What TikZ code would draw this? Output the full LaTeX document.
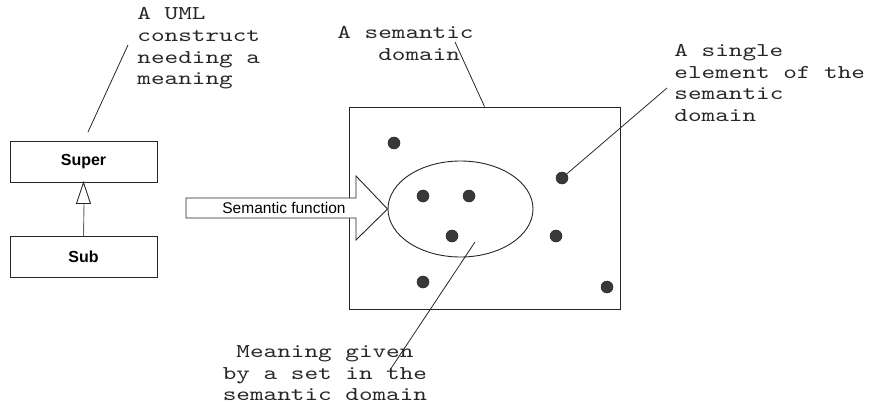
\documentclass[tikz,border=0pt]{standalone}
\usepackage{fontspec}
\setsansfont{Liberation Sans}
\newfontfamily\cour{lmmono10-regular.otf}[FakeStretch=1.33]
\usetikzlibrary{shapes.geometric}
\begin{document}
\begin{tikzpicture}[x=1pt,y=-1pt,line width=0.9pt,draw=black!85,
  cls/.style={draw,minimum width=147pt,minimum height=41pt,inner sep=0pt,
    font=\sffamily\bfseries\fontsize{16}{19}\selectfont},
  note/.style={font=\cour\fontsize{19.5}{21.6}\selectfont,inner sep=0pt,align=left,anchor=north west,text=black!85},
  dotn/.style={circle,fill=black!78,draw=black!85,line width=0.5pt,minimum size=12pt,inner sep=0pt},
  leader/.style={line width=0.8pt,draw=black!85}]
\useasboundingbox (0,0) rectangle (873,407);
% class boxes
\node[cls] (super) at (83.5,161.5) {Super};
\node[cls] (sub) at (83.5,257) {Sub};
\coordinate (tribase) at (84,203);
\draw[black!60] (sub.north) -- (tribase);
\draw[fill=white] (super.south) -- ++(-7,21) -- ++(14,0) -- cycle;
% semantic domain
\node[draw,minimum width=271pt,minimum height=202pt,inner sep=0pt] (dom) at (484.5,208) {};
\node[draw,ellipse,minimum width=145pt,minimum height=96pt,inner sep=0pt] (set) at (460.5,209) {};
% dots
\node[dotn] (d1) at (394,143) {};
\node[dotn] (d2) at (423,196) {};
\node[dotn] (d3) at (469,196) {};
\node[dotn] (d4) at (452,236) {};
\node[dotn] (d5) at (562,178) {};
\node[dotn] (d6) at (556,236) {};
\node[dotn] (d7) at (423,282) {};
\node[dotn] (d8) at (607,287) {};
% semantic function arrow
\draw[fill=white] (186,198) -- (356,198) -- (356,176) -- (set.west) -- (356,240) -- (356,218) -- (186,218) -- cycle;
\node[font=\sffamily\fontsize{15.5}{18}\selectfont,inner sep=0pt] (fn) at (284,208) {Semantic function};
% notes
\node[note] (uml) at (137,4.4) {\strut A UML\\construct\\needing a\\meaning};
\node[note] (semdom) at (337,22.9) {\strut A semantic\\\phantom{A s}domain};
\node[note] (single) at (674,40.9) {\strut A single\\element of the\\semantic\\domain};
\node[note,align=center,anchor=north] (meaning) at (325,341.9) {\strut Meaning given\\by a set in the\\semantic domain};
% leaders
\coordinate (l1a) at (88,132);
\coordinate (l1b) at (128,45);
\draw[leader] (l1a) -- (l1b);
\coordinate (l2a) at (455,42);
\draw[leader] (l2a) -- (dom.north);
\coordinate (l3b) at (667,88);
\draw[leader] (d5) -- (l3b);
\coordinate (l4a) at (475,242);
\coordinate (l4b) at (390,370);
\draw[leader] (l4a) -- (l4b);
\end{tikzpicture}
\end{document}
